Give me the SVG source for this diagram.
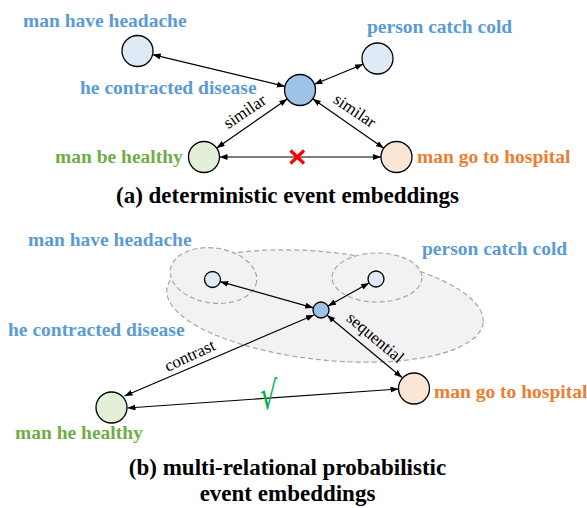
<svg xmlns="http://www.w3.org/2000/svg" width="587" height="508" viewBox="0 0 587 508">
<style>
.lbl{font-family:"Liberation Serif","Times New Roman",serif;font-weight:bold;font-size:19.5px}
.blue{fill:#5B9BD5}
.green{fill:#70AD47}
.orange{fill:#ED7D31}
.cap{font-family:"Liberation Serif","Times New Roman",serif;font-weight:bold;font-size:23px;fill:#000;text-anchor:middle}
.rel{font-family:"Liberation Serif","Times New Roman",serif;font-size:17px;fill:#000;text-anchor:middle}
.node{stroke:#000;stroke-width:1.3}
.lb{fill:#DEEBF7}
.db{fill:#9DC3E6}
.lg{fill:#E2F0D9}
.lo{fill:#FBE5D6}
.edge{stroke:#000;stroke-width:1.2;fill:none;marker-start:url(#ah);marker-end:url(#ah)}
.cloud{fill:#F2F2F2;stroke:#A6A6A6;stroke-width:1.2;stroke-dasharray:5 3}
</style>
<defs>
<marker id="ah" markerUnits="userSpaceOnUse" markerWidth="9" markerHeight="7" refX="8" refY="3" orient="auto-start-reverse">
<path d="M0,0 L8,3 L0,6 z" fill="#000"/>
</marker>
</defs>

<!-- (b) clouds -->
<g id="clouds">
<ellipse class="cloud" cx="325" cy="306" rx="159" ry="54" transform="rotate(6 325 306)"/>
<ellipse class="cloud" cx="213.5" cy="275.5" rx="43.5" ry="27.5" transform="rotate(8 213.5 275.5)"/>
<ellipse class="cloud" cx="377" cy="277.5" rx="45" ry="24.5"/>
</g>

<g id="connectors">
<line class="edge" x1="152.6" y1="54.6" x2="284.9" y2="86.4"/>
<line class="edge" x1="363.1" y1="64.3" x2="314.4" y2="84.2"/>
<line class="edge" x1="287.3" y1="98.9" x2="216.7" y2="148.1"/>
<line class="edge" x1="312.7" y1="98.8" x2="383.8" y2="148.2"/>
<line class="edge" x1="219.5" y1="157" x2="381" y2="157"/>

<line class="edge" x1="313.3" y1="307.8" x2="220.2" y2="281.7"/>
<line class="edge" x1="328" y1="306.1" x2="369" y2="282.9"/>
<line class="edge" x1="314" y1="315" x2="124.5" y2="396"/>
<line class="edge" x1="327.1" y1="315.2" x2="402" y2="377.5"/>
<line class="edge" x1="127.5" y1="408" x2="398.5" y2="389"/>

<text class="rel" transform="translate(245,112) rotate(-34)" x="0" y="5">similar</text>
<text class="rel" transform="translate(354.5,111) rotate(34)" x="0" y="5">similar</text>
<text class="rel" transform="translate(190,356) rotate(-25)" x="0" y="5">contrast</text>
<text class="rel" transform="translate(375,338) rotate(40)" x="0" y="5">sequential</text>

<path d="M290.5,150.5 L304,163.5 M304,150.5 L290.5,163.5" stroke="#FF0000" stroke-width="3.2" fill="none"/>
<text transform="translate(268.5,409) scale(1,1.45)" x="0" y="0" font-family="'DejaVu Serif',serif" font-size="27" fill="#00B050" text-anchor="middle">√</text>
</g>

<!-- (a) nodes -->
<g id="a-headache">
<circle class="node lb" cx="137.5" cy="51" r="15.5"/>
<text class="lbl blue" x="23" y="27">man have headache</text>
</g>
<g id="a-disease">
<circle class="node db" cx="300" cy="90" r="15.5"/>
<text class="lbl blue" x="80" y="94">he contracted disease</text>
</g>
<g id="a-cold">
<circle class="node lb" cx="377.5" cy="58.5" r="15.5"/>
<text class="lbl blue" x="367" y="33">person catch cold</text>
</g>
<g id="a-healthy">
<circle class="node lg" cx="204" cy="157" r="15.5"/>
<text class="lbl green" x="55" y="163">man be healthy</text>
</g>
<g id="a-hospital">
<circle class="node lo" cx="396.5" cy="157" r="15.5"/>
<text class="lbl orange" x="417" y="163">man go to hospital</text>
</g>
<text class="cap" x="287.5" y="203">(a) deterministic event embeddings</text>

<!-- (b) nodes -->
<g id="b-headache">
<circle class="node lb" cx="212.5" cy="279.5" r="8"/>
<text class="lbl blue" x="28" y="246">man have headache</text>
</g>
<g id="b-disease">
<circle class="node db" cx="321" cy="310" r="8"/>
<text class="lbl blue" x="8" y="336">he contracted disease</text>
</g>
<g id="b-cold">
<circle class="node lb" cx="376" cy="279" r="8"/>
<text class="lbl blue" x="422" y="255">person catch cold</text>
</g>
<g id="b-healthy">
<circle class="node lg" cx="111.5" cy="407.5" r="15.5"/>
<text class="lbl green" x="15" y="439">man he healthy</text>
</g>
<g id="b-hospital">
<circle class="node lo" cx="414" cy="388.5" r="15.5"/>
<text class="lbl orange" x="434" y="398">man go to hospital</text>
</g>
<text class="cap" x="287.5" y="475">(b) multi-relational probabilistic</text>
<text class="cap" x="287.5" y="501">event embeddings</text>
</svg>
